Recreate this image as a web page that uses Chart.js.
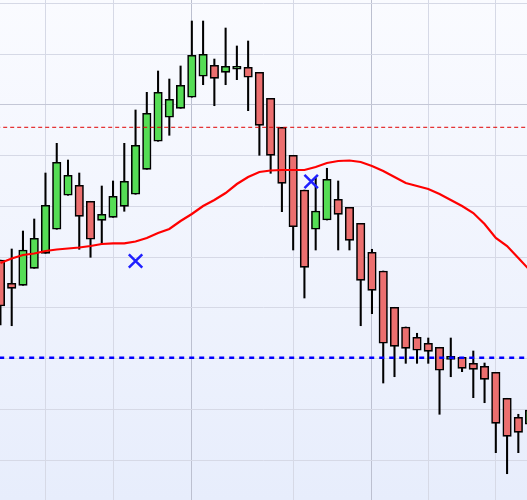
<!DOCTYPE html>
<html>
<head>
<meta charset="utf-8">
<script src="https://cdn.jsdelivr.net/npm/chart.js@4/dist/chart.umd.min.js"></script>
<style>
  html, body { margin: 0; padding: 0; background: #fff; }
  canvas { display: block; }
</style>
</head>
<body>
<canvas id="grafico" width="527" height="500"></canvas>
<script>
// velas (open, high, low, close)
const aperturas = [99.42, 94.83, 94.43, 97.78, 100.74, 105.47, 112.17, 114.14, 110.99, 107.24,
  107.83, 110.00, 112.37, 117.29, 122.81, 127.54, 129.31, 131.48, 135.62, 137.78,
  136.40, 137.00, 137.39, 136.40, 131.28, 125.57, 120.05, 113.21, 105.47, 107.30,
  111.38, 109.80, 106.65, 100.94, 97.25, 90.10, 86.22, 84.19, 83.01, 82.22,
  79.85, 80.25, 79.06, 78.47, 77.29, 72.17, 68.42, 67.05];
const maximos = [99.42, 101.59, 105.13, 107.50, 116.56, 122.41, 119.12, 116.56, 110.99, 114.00,
  114.99, 122.41, 128.98, 132.46, 136.66, 135.08, 137.65, 146.51, 146.51, 139.02,
  145.13, 141.59, 142.57, 136.40, 131.28, 125.57, 120.05, 113.21, 115.58, 117.49,
  114.99, 109.80, 106.65, 101.53, 97.25, 90.10, 86.22, 84.98, 84.05, 82.22,
  84.05, 80.25, 81.49, 79.12, 77.29, 72.17, 69.02, 69.86];
const minimos = [86.61, 86.47, 94.43, 97.78, 100.74, 105.47, 112.17, 101.53, 99.95, 102.51,
  107.83, 109.02, 112.37, 117.29, 122.81, 123.99, 129.31, 131.48, 133.96, 129.82,
  133.96, 134.95, 128.84, 120.05, 116.50, 108.94, 101.39, 91.93, 101.39, 107.30,
  101.39, 101.39, 86.47, 88.84, 75.18, 76.42, 79.06, 79.06, 79.06, 69.02,
  76.42, 77.41, 72.29, 71.30, 61.45, 57.31, 61.45, 67.05];
const cierres = [90.36, 93.84, 101.39, 103.70, 110.20, 118.67, 116.11, 108.03, 103.50, 108.42,
  111.97, 114.93, 122.02, 128.33, 132.46, 131.08, 133.84, 139.75, 139.95, 135.22,
  137.59, 137.59, 135.42, 125.96, 120.05, 114.53, 105.98, 97.98, 109.07, 115.32,
  108.42, 103.30, 95.42, 93.45, 83.01, 82.41, 82.02, 81.63, 81.43, 77.69,
  80.44, 78.08, 77.88, 75.91, 67.24, 64.68, 65.47, 69.86];

// media movil
const media = [98.83, 99.71, 100.40, 100.70, 101.19, 101.49, 101.69, 101.88, 102.18, 102.57,
  102.71, 102.71, 103.06, 103.75, 104.74, 105.53, 107.10, 108.48, 110.06, 111.24,
  112.62, 114.39, 115.77, 116.76, 117.05, 117.15, 117.15, 117.15, 117.74, 118.53,
  118.93, 119.02, 118.73, 117.94, 116.96, 115.77, 114.59, 114.00, 113.41, 112.42,
  111.24, 110.06, 108.68, 106.51, 103.75, 102.18, 99.81, 97.45];

// niveles y marcas
const nivelRojo = 125.57;
const nivelAzul = 80.17;
const marcasX = [12, 27.6];
const marcasY = [99.22, 114.89];

// lineas verticales de la grilla (indice de vela)
const grillaX = [4, 10, 17, 26, 33, 38, 44];
const grillaXFuerte = [17, 33];
const grillaYFuerte = [130];

const indices = aperturas.map((_, i) => i);
const colores = indices.map(i => cierres[i] >= aperturas[i] ? '#55dd55' : '#ec6f6f');

const fondo = {
  id: 'fondo',
  beforeDraw(chart) {
    const { ctx, chartArea: a } = chart;
    const g = ctx.createLinearGradient(0, a.top, 0, a.bottom);
    g.addColorStop(0, '#fafbff');
    g.addColorStop(1, '#e7edfc');
    ctx.save();
    ctx.fillStyle = g;
    ctx.fillRect(a.left, a.top, a.right - a.left, a.bottom - a.top);
    ctx.restore();
  }
};

const config = {
  type: 'bar',
  data: {
    datasets: [
      {
        type: 'line',
        label: 'marcas',
        data: marcasX.map((x, i) => ({ x: x, y: marcasY[i] })),
        showLine: false,
        pointStyle: 'crossRot',
        pointRadius: 9.5,
        pointBorderWidth: 2.5,
        pointBorderColor: '#1f1fff',
        order: 0
      },
      {
        type: 'line',
        label: 'nivel azul',
        data: [{ x: -1, y: nivelAzul }, { x: 48, y: nivelAzul }],
        borderColor: '#0000ff',
        borderWidth: 2.5,
        borderDash: [5, 5],
        pointRadius: 0,
        order: 1
      },
      {
        type: 'line',
        label: 'nivel rojo',
        data: [{ x: -1, y: nivelRojo }, { x: 48, y: nivelRojo }],
        borderColor: '#e00000',
        borderWidth: 1,
        borderDash: [4, 3],
        pointRadius: 0,
        order: 1
      },
      {
        type: 'line',
        label: 'media',
        data: indices.map(i => ({ x: i, y: media[i] })),
        borderColor: '#ff0000',
        borderWidth: 2.2,
        pointRadius: 0,
        tension: 0,
        order: 2
      },
      {
        label: 'cuerpos',
        data: indices.map(i => ({ x: i, y: [aperturas[i], cierres[i]] })),
        backgroundColor: colores,
        borderColor: '#000000',
        borderWidth: 1.6,
        borderSkipped: false,
        barThickness: 8.5,
        grouped: false,
        order: 3
      },
      {
        label: 'mechas',
        data: indices.map(i => ({ x: i, y: [minimos[i], maximos[i]] })),
        backgroundColor: '#000000',
        borderWidth: 0,
        barThickness: 1.4,
        grouped: false,
        order: 4
      }
    ]
  },
  options: {
    responsive: false,
    animation: false,
    devicePixelRatio: 1,
    layout: { padding: 0, autoPadding: false },
    plugins: {
      legend: { display: false },
      tooltip: { enabled: false }
    },
    scales: {
      x: {
        type: 'linear',
        min: -0.04,
        max: 46.77,
        offset: false,
        afterBuildTicks: (scale) => {
          scale.ticks = grillaX.map(v => ({ value: v }));
        },
        ticks: { display: false },
        border: { display: false },
        grid: {
          offset: false,
          drawTicks: false,
          lineWidth: 1,
          color: (c) => grillaXFuerte.includes(c.tick && c.tick.value) ? '#bcc0d0' : '#d6d9e6'
        }
      },
      y: {
        type: 'linear',
        min: 52.13,
        max: 150.65,
        ticks: { display: false, stepSize: 10, includeBounds: false },
        border: { display: false },
        grid: {
          drawTicks: false,
          lineWidth: 1,
          color: (c) => grillaYFuerte.includes(c.tick && c.tick.value) ? '#c4c7d6' : '#d6d9e6'
        }
      }
    }
  },
  plugins: [fondo]
};

new Chart(document.getElementById('grafico'), config);
</script>
</body>
</html>
